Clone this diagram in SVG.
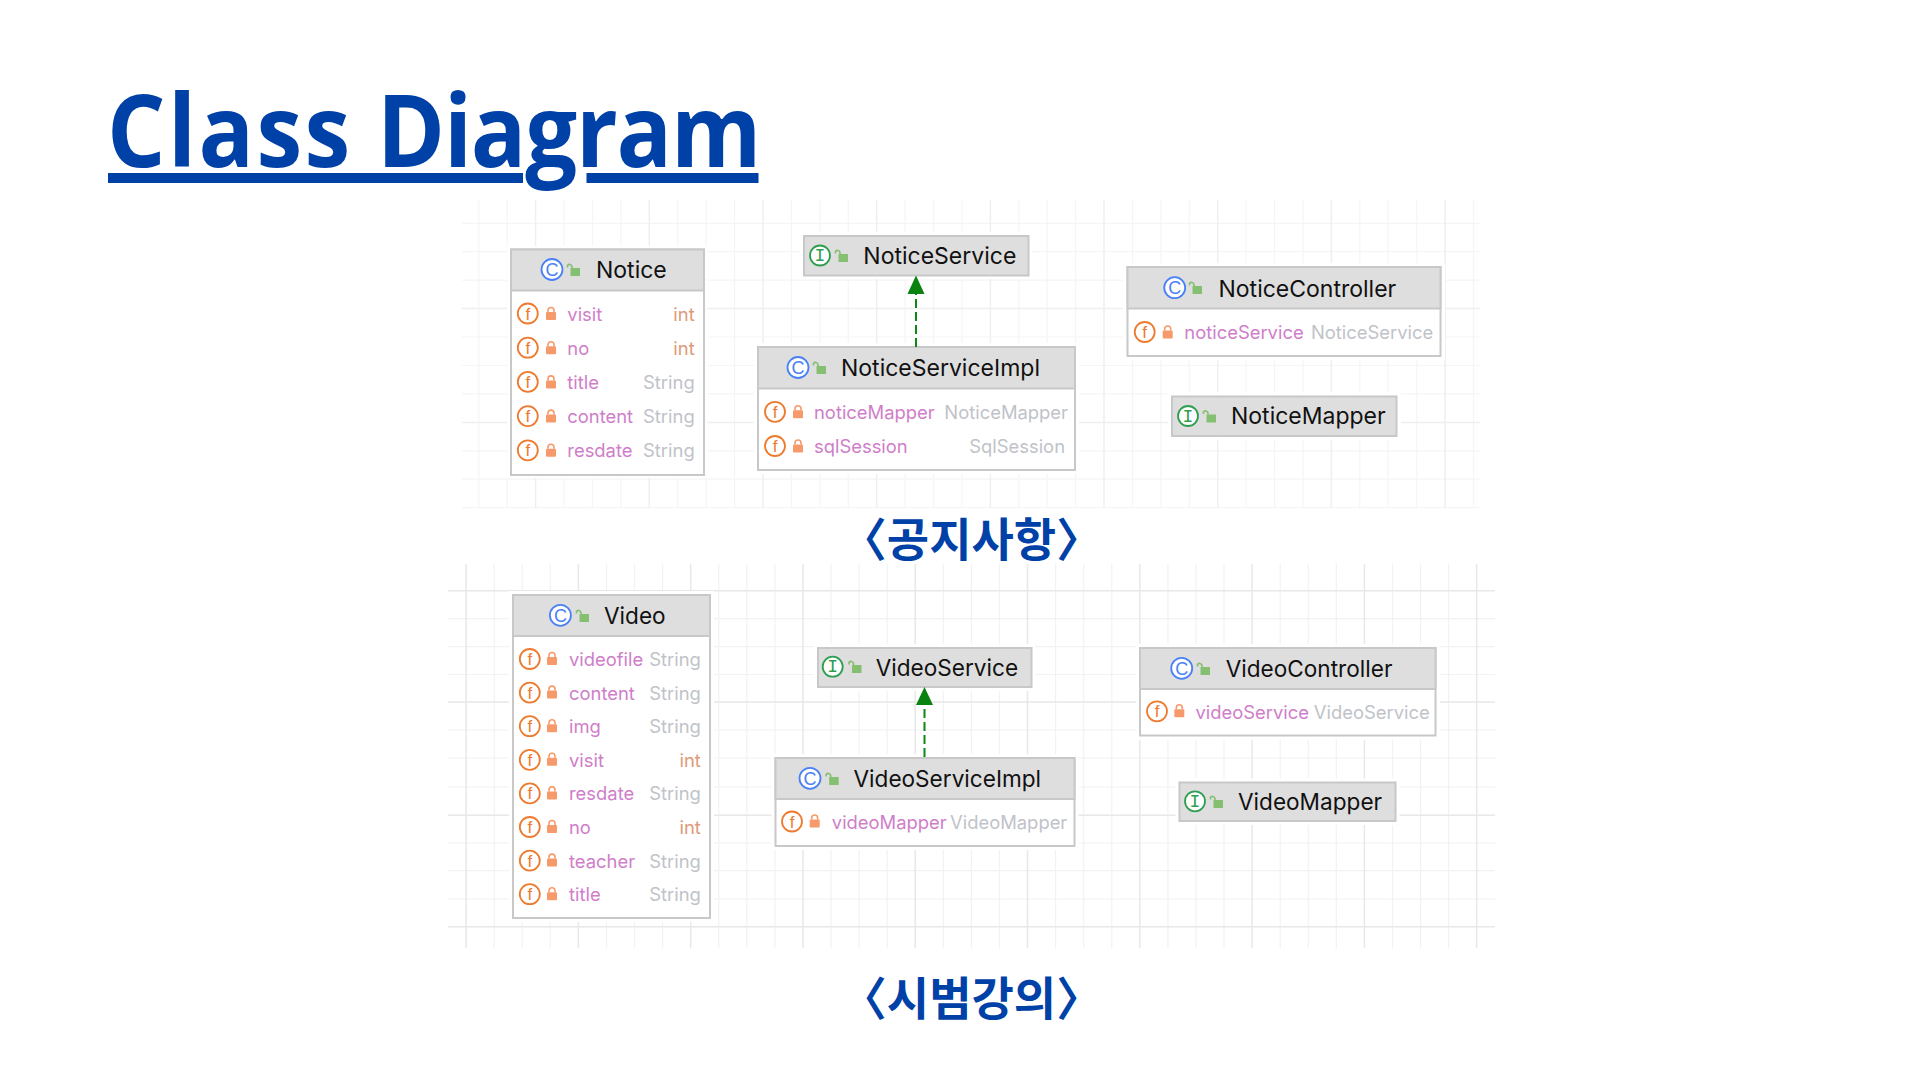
<svg xmlns="http://www.w3.org/2000/svg" width="1920" height="1080" viewBox="0 0 1920 1080">
<style>
text{font-family:"Inter","Noto Sans",sans-serif}
.bg{fill:#fff}
.halo{fill:#fff}
.body{fill:#fff;stroke:#c8c8c8;stroke-width:2}
.head{fill:#dedede;stroke:#c8c8c8;stroke-width:2}
.t{font-size:23px;fill:#111}
.t2{font-size:22.6px;fill:#111}
.n{font-size:18.4px;fill:#cf7ec9}
.ty{font-size:18.4px;fill:#bfc3c9;text-anchor:end}
.i{font-size:18.4px;fill:#de9a78;text-anchor:end}
.fc{fill:#fff;stroke:#ee7a2e;stroke-width:1.8}
.ft{font-size:17px;fill:#ee7a2e;text-anchor:middle;font-family:"Liberation Sans",sans-serif}
.cc{fill:#fff;stroke:#4a80f5;stroke-width:1.8}
.ct{font-size:18px;fill:#4a80f5;text-anchor:middle;font-family:"Liberation Sans",sans-serif}
.ic{fill:#fff;stroke:#2e9e50;stroke-width:1.8}
.it{font-size:18px;fill:#2e9e50;text-anchor:middle;font-family:"Liberation Mono",monospace}
.cap{font-size:46px;font-weight:700;fill:#0041a8;text-anchor:middle;font-family:"Noto Sans CJK KR","Noto Sans",sans-serif}
.gm{stroke:#efefef;stroke-width:1.5;fill:none}
.gn{stroke:#f5f5f5;stroke-width:1.2;fill:none}
.g2m{stroke:#e8e8e8;stroke-width:1.5;fill:none}
.g2n{stroke:#f2f2f2;stroke-width:1.2;fill:none}
.dep{stroke:#0a8a12;stroke-width:2;stroke-dasharray:9 4;fill:none}
.hd{fill:#0a8210}
</style>
<defs>
<g id="lock"><rect x="-5" y="-2" width="10" height="8" rx="1" fill="#f79a6b"/><path d="M-3-2V-3.5A3 3 0 0 1 3-3.5V-2" fill="none" stroke="#f79a6b" stroke-width="1.6"/></g>
<g id="open"><rect x="-3.5" y="-2" width="9.5" height="8" fill="#85bf72"/><path d="M-2-2V-3.5A2.5 2.5 0 0 0-6.5-4.5V-2.5" fill="none" stroke="#85bf72" stroke-width="1.6"/></g>
</defs>
<rect class="bg" width="1920" height="1080"/>
<g id="title">
<text transform="translate(107 167) scale(.92 1)" font-size="100" font-weight="700" fill="#0041a8" style="font-family:'Open Sans',sans-serif"><tspan x="0" y="0" letter-spacing="2.6">Class </tspan><tspan x="293.5" y="0" letter-spacing="-1.3">Diagram</tspan></text>
<rect x="108" y="173" width="415" height="10" fill="#0041a8"/>
<rect x="586.5" y="173" width="172" height="10" fill="#0041a8"/>
</g>
<g id="grid-notice">
<path class="gn" d="M478.8 200V508M507.2 200V508M564.1 200V508M592.5 200V508M620.9 200V508M677.7 200V508M706.2 200V508M734.6 200V508M791.4 200V508M819.8 200V508M848.3 200V508M905.1 200V508M933.5 200V508M961.9 200V508M1018.8 200V508M1047.2 200V508M1075.6 200V508M1132.5 200V508M1160.9 200V508M1189.3 200V508M1246.1 200V508M1274.6 200V508M1303 200V508M1359.8 200V508M1388.2 200V508M1416.7 200V508M1473.5 200V508M462 223.3H1480M462 251.7H1480M462 280.2H1480M462 337H1480M462 365.5H1480M462 393.9H1480M462 450.8H1480M462 479.2H1480M462 507.7H1480"/>
<path class="gm" d="M535.6 200V508M649.3 200V508M763 200V508M876.7 200V508M990.4 200V508M1104 200V508M1217.7 200V508M1331.4 200V508M1445.1 200V508M462 308.6H1480M462 422.4H1480"/>
</g>
<g id="grid-video">
<path class="g2n" d="M494.2 564V948M522.2 564V948M550.3 564V948M606.5 564V948M634.5 564V948M662.6 564V948M718.8 564V948M746.8 564V948M774.9 564V948M831 564V948M859.1 564V948M887.2 564V948M943.3 564V948M971.4 564V948M999.5 564V948M1055.6 564V948M1083.7 564V948M1111.8 564V948M1167.9 564V948M1196 564V948M1224 564V948M1280.2 564V948M1308.3 564V948M1336.3 564V948M1392.5 564V948M1420.6 564V948M1448.6 564V948M448 618.7H1495M448 646.7H1495M448 674.5H1495M448 730H1495M448 758H1495M448 787H1495M448 843H1495M448 870.7H1495M448 899H1495"/>
<path class="g2m" d="M466.1 564V948M578.4 564V948M690.7 564V948M803 564V948M915.2 564V948M1027.5 564V948M1139.8 564V948M1252.1 564V948M1364.4 564V948M1476.7 564V948M448 590.7H1495M448 702H1495M448 815.3H1495M448 926.7H1495"/>
</g>
<g id="notice">
<rect class="halo" x="507" y="246" width="200" height="232"/>
<rect class="body" x="511" y="249.5" width="193" height="225.5"/>
<rect class="head" x="511" y="249.5" width="193" height="41"/>
<circle class="cc" cx="552" cy="269.5" r="10.5"/><text class="ct" x="552" y="276">C</text>
<use href="#open" x="574" y="270"/>
<text class="t" x="596" y="277.5">Notice</text>
<circle class="fc" cx="527.8" cy="313.5" r="10"/><text class="ft" x="527.8" y="319.5">f</text><use href="#lock" x="551" y="314"/><text class="n" x="567.3" y="320.5">visit</text><text class="i" x="694.7" y="320.5">int</text>
<circle class="fc" cx="527.8" cy="347.7" r="10"/><text class="ft" x="527.8" y="353.7">f</text><use href="#lock" x="551" y="348.2"/><text class="n" x="567.3" y="354.7">no</text><text class="i" x="694.7" y="354.7">int</text>
<circle class="fc" cx="527.8" cy="381.9" r="10"/><text class="ft" x="527.8" y="387.9">f</text><use href="#lock" x="551" y="382.4"/><text class="n" x="567.3" y="388.9">title</text><text class="ty" x="694.7" y="388.9">String</text>
<circle class="fc" cx="527.8" cy="416.1" r="10"/><text class="ft" x="527.8" y="422.1">f</text><use href="#lock" x="551" y="416.6"/><text class="n" x="567.3" y="423.1">content</text><text class="ty" x="694.7" y="423.1">String</text>
<circle class="fc" cx="527.8" cy="450.3" r="10"/><text class="ft" x="527.8" y="456.3">f</text><use href="#lock" x="551" y="450.8"/><text class="n" x="567.3" y="457.3">resdate</text><text class="ty" x="694.7" y="457.3">String</text>
</g>
<g id="notice-service">
<rect class="halo" x="800" y="232" width="232" height="47"/>
<rect class="head" x="804" y="236" width="224.5" height="39.5"/>
<circle class="ic" cx="820" cy="255.5" r="10"/><text class="it" x="820" y="261">I</text>
<use href="#open" x="842" y="256"/>
<text class="t" x="863.3" y="263.5">NoticeService</text>
</g>
<g id="notice-service-impl">
<rect class="halo" x="754" y="343" width="325" height="131"/>
<rect class="body" x="758" y="347" width="317" height="123"/>
<rect class="head" x="758" y="347" width="317" height="41.5"/>
<circle class="cc" cx="798" cy="367.5" r="10.5"/><text class="ct" x="798" y="374">C</text>
<use href="#open" x="820" y="368"/>
<text class="t" x="841" y="375.5">NoticeServiceImpl</text>
<circle class="fc" cx="775" cy="411.8" r="10"/><text class="ft" x="775" y="417.8">f</text><use href="#lock" x="798" y="412.3"/><text class="n" x="814" y="418.8">noticeMapper</text><text class="ty" x="1068" y="418.8">NoticeMapper</text>
<circle class="fc" cx="775" cy="446" r="10"/><text class="ft" x="775" y="452">f</text><use href="#lock" x="798" y="446.5"/><text class="n" x="814" y="453">sqlSession</text><text class="ty" x="1065" y="453">SqlSession</text>
</g>
<g id="notice-controller">
<rect class="halo" x="1123" y="263" width="322" height="97"/>
<rect class="body" x="1127.5" y="267" width="313" height="89"/>
<rect class="head" x="1127.5" y="267" width="313" height="41.5"/>
<circle class="cc" cx="1174.7" cy="287.7" r="10.5"/><text class="ct" x="1174.7" y="294.2">C</text>
<use href="#open" x="1196" y="288"/>
<text class="t" x="1218.5" y="296.5">NoticeController</text>
<circle class="fc" cx="1144.7" cy="332" r="10"/><text class="ft" x="1144.7" y="338">f</text><use href="#lock" x="1167.7" y="332.5"/><text class="n" x="1184.3" y="339">noticeService</text><text class="ty" x="1433.3" y="339">NoticeService</text>
</g>
<g id="notice-mapper">
<rect class="halo" x="1168" y="392.5" width="233" height="47"/>
<rect class="head" x="1172" y="396.5" width="224.5" height="39.5"/>
<circle class="ic" cx="1188" cy="416" r="10"/><text class="it" x="1188" y="421.5">I</text>
<use href="#open" x="1210" y="416.5"/>
<text class="t" x="1231" y="424">NoticeMapper</text>
</g>
<g id="video">
<rect class="halo" x="509" y="591" width="205" height="331"/>
<rect class="body" x="513" y="595" width="197" height="323"/>
<rect class="head" x="513" y="595" width="197" height="41"/>
<circle class="cc" cx="560.4" cy="615.3" r="10.5"/><text class="ct" x="560.4" y="621.8">C</text>
<use href="#open" x="583" y="616"/>
<text class="t2" x="604" y="623.5">Video</text>
<circle class="fc" cx="529.8" cy="659" r="10"/><text class="ft" x="529.8" y="665">f</text><use href="#lock" x="552" y="659"/><text class="n" x="569" y="666">videofile</text><text class="ty" x="700.8" y="666">String</text>
<circle class="fc" cx="529.8" cy="692.6" r="10"/><text class="ft" x="529.8" y="698.6">f</text><use href="#lock" x="552" y="692.6"/><text class="n" x="569" y="699.6">content</text><text class="ty" x="700.8" y="699.6">String</text>
<circle class="fc" cx="529.8" cy="726.2" r="10"/><text class="ft" x="529.8" y="732.2">f</text><use href="#lock" x="552" y="726.2"/><text class="n" x="569" y="733.2">img</text><text class="ty" x="700.8" y="733.2">String</text>
<circle class="fc" cx="529.8" cy="759.8" r="10"/><text class="ft" x="529.8" y="765.8">f</text><use href="#lock" x="552" y="759.8"/><text class="n" x="569" y="766.8">visit</text><text class="i" x="700.8" y="766.8">int</text>
<circle class="fc" cx="529.8" cy="793.4" r="10"/><text class="ft" x="529.8" y="799.4">f</text><use href="#lock" x="552" y="793.4"/><text class="n" x="569" y="800.4">resdate</text><text class="ty" x="700.8" y="800.4">String</text>
<circle class="fc" cx="529.8" cy="827" r="10"/><text class="ft" x="529.8" y="833">f</text><use href="#lock" x="552" y="827"/><text class="n" x="569" y="834">no</text><text class="i" x="700.8" y="834">int</text>
<circle class="fc" cx="529.8" cy="860.6" r="10"/><text class="ft" x="529.8" y="866.6">f</text><use href="#lock" x="552" y="860.6"/><text class="n" x="569" y="867.6">teacher</text><text class="ty" x="700.8" y="867.6">String</text>
<circle class="fc" cx="529.8" cy="894.2" r="10"/><text class="ft" x="529.8" y="900.2">f</text><use href="#lock" x="552" y="894.2"/><text class="n" x="569" y="901.2">title</text><text class="ty" x="700.8" y="901.2">String</text>
</g>
<g id="video-service">
<rect class="halo" x="814" y="644" width="221" height="47"/>
<rect class="head" x="818" y="648" width="213.5" height="39"/>
<circle class="ic" cx="832.7" cy="666.7" r="10"/><text class="it" x="832.7" y="672.2">I</text>
<use href="#open" x="855.5" y="667"/>
<text class="t2" x="875.7" y="675.5">VideoService</text>
</g>
<g id="video-service-impl">
<rect class="halo" x="771.5" y="754" width="307" height="96"/>
<rect class="body" x="775.5" y="758" width="299" height="88"/>
<rect class="head" x="775.5" y="758" width="299" height="41"/>
<circle class="cc" cx="810" cy="778.3" r="10.5"/><text class="ct" x="810" y="784.8">C</text>
<use href="#open" x="832.7" y="779"/>
<text class="t2" x="853.5" y="786.7">VideoServiceImpl</text>
<circle class="fc" cx="792" cy="821.5" r="10"/><text class="ft" x="792" y="827.5">f</text><use href="#lock" x="814.7" y="821.5"/><text class="n" x="831.8" y="828.5">videoMapper</text><text class="ty" x="1067.3" y="828.5">VideoMapper</text>
</g>
<g id="video-controller">
<rect class="halo" x="1136" y="644" width="304" height="96"/>
<rect class="body" x="1140" y="648" width="295.5" height="87.5"/>
<rect class="head" x="1140" y="648" width="295.5" height="41"/>
<circle class="cc" cx="1181.7" cy="668.3" r="10.5"/><text class="ct" x="1181.7" y="674.8">C</text>
<use href="#open" x="1204" y="669"/>
<text class="t2" x="1225.7" y="676.7">VideoController</text>
<circle class="fc" cx="1157" cy="711.3" r="10"/><text class="ft" x="1157" y="717.3">f</text><use href="#lock" x="1179.3" y="711.3"/><text class="n" x="1195.5" y="718.8">videoService</text><text class="ty" x="1429.7" y="718.8">VideoService</text>
</g>
<g id="video-mapper">
<rect class="halo" x="1175.5" y="778.5" width="224" height="46.5"/>
<rect class="head" x="1179.5" y="782.5" width="216" height="38.5"/>
<circle class="ic" cx="1195" cy="801.3" r="10"/><text class="it" x="1195" y="806.8">I</text>
<use href="#open" x="1217" y="802"/>
<text class="t2" x="1238" y="810">VideoMapper</text>
</g>
<g id="connectors">
<path class="dep" d="M916 347V291"/>
<path class="hd" d="M916 275.5L924.5 294H907.5Z"/>
<path class="dep" d="M924.5 757V702"/>
<path class="hd" d="M924.5 687L933 705H916Z"/>
</g>
<g id="captions">
<text class="cap" x="971.5" y="556">〈공지사항〉</text>
<text class="cap" x="971.5" y="1015">〈시범강의〉</text>
</g>
</svg>
